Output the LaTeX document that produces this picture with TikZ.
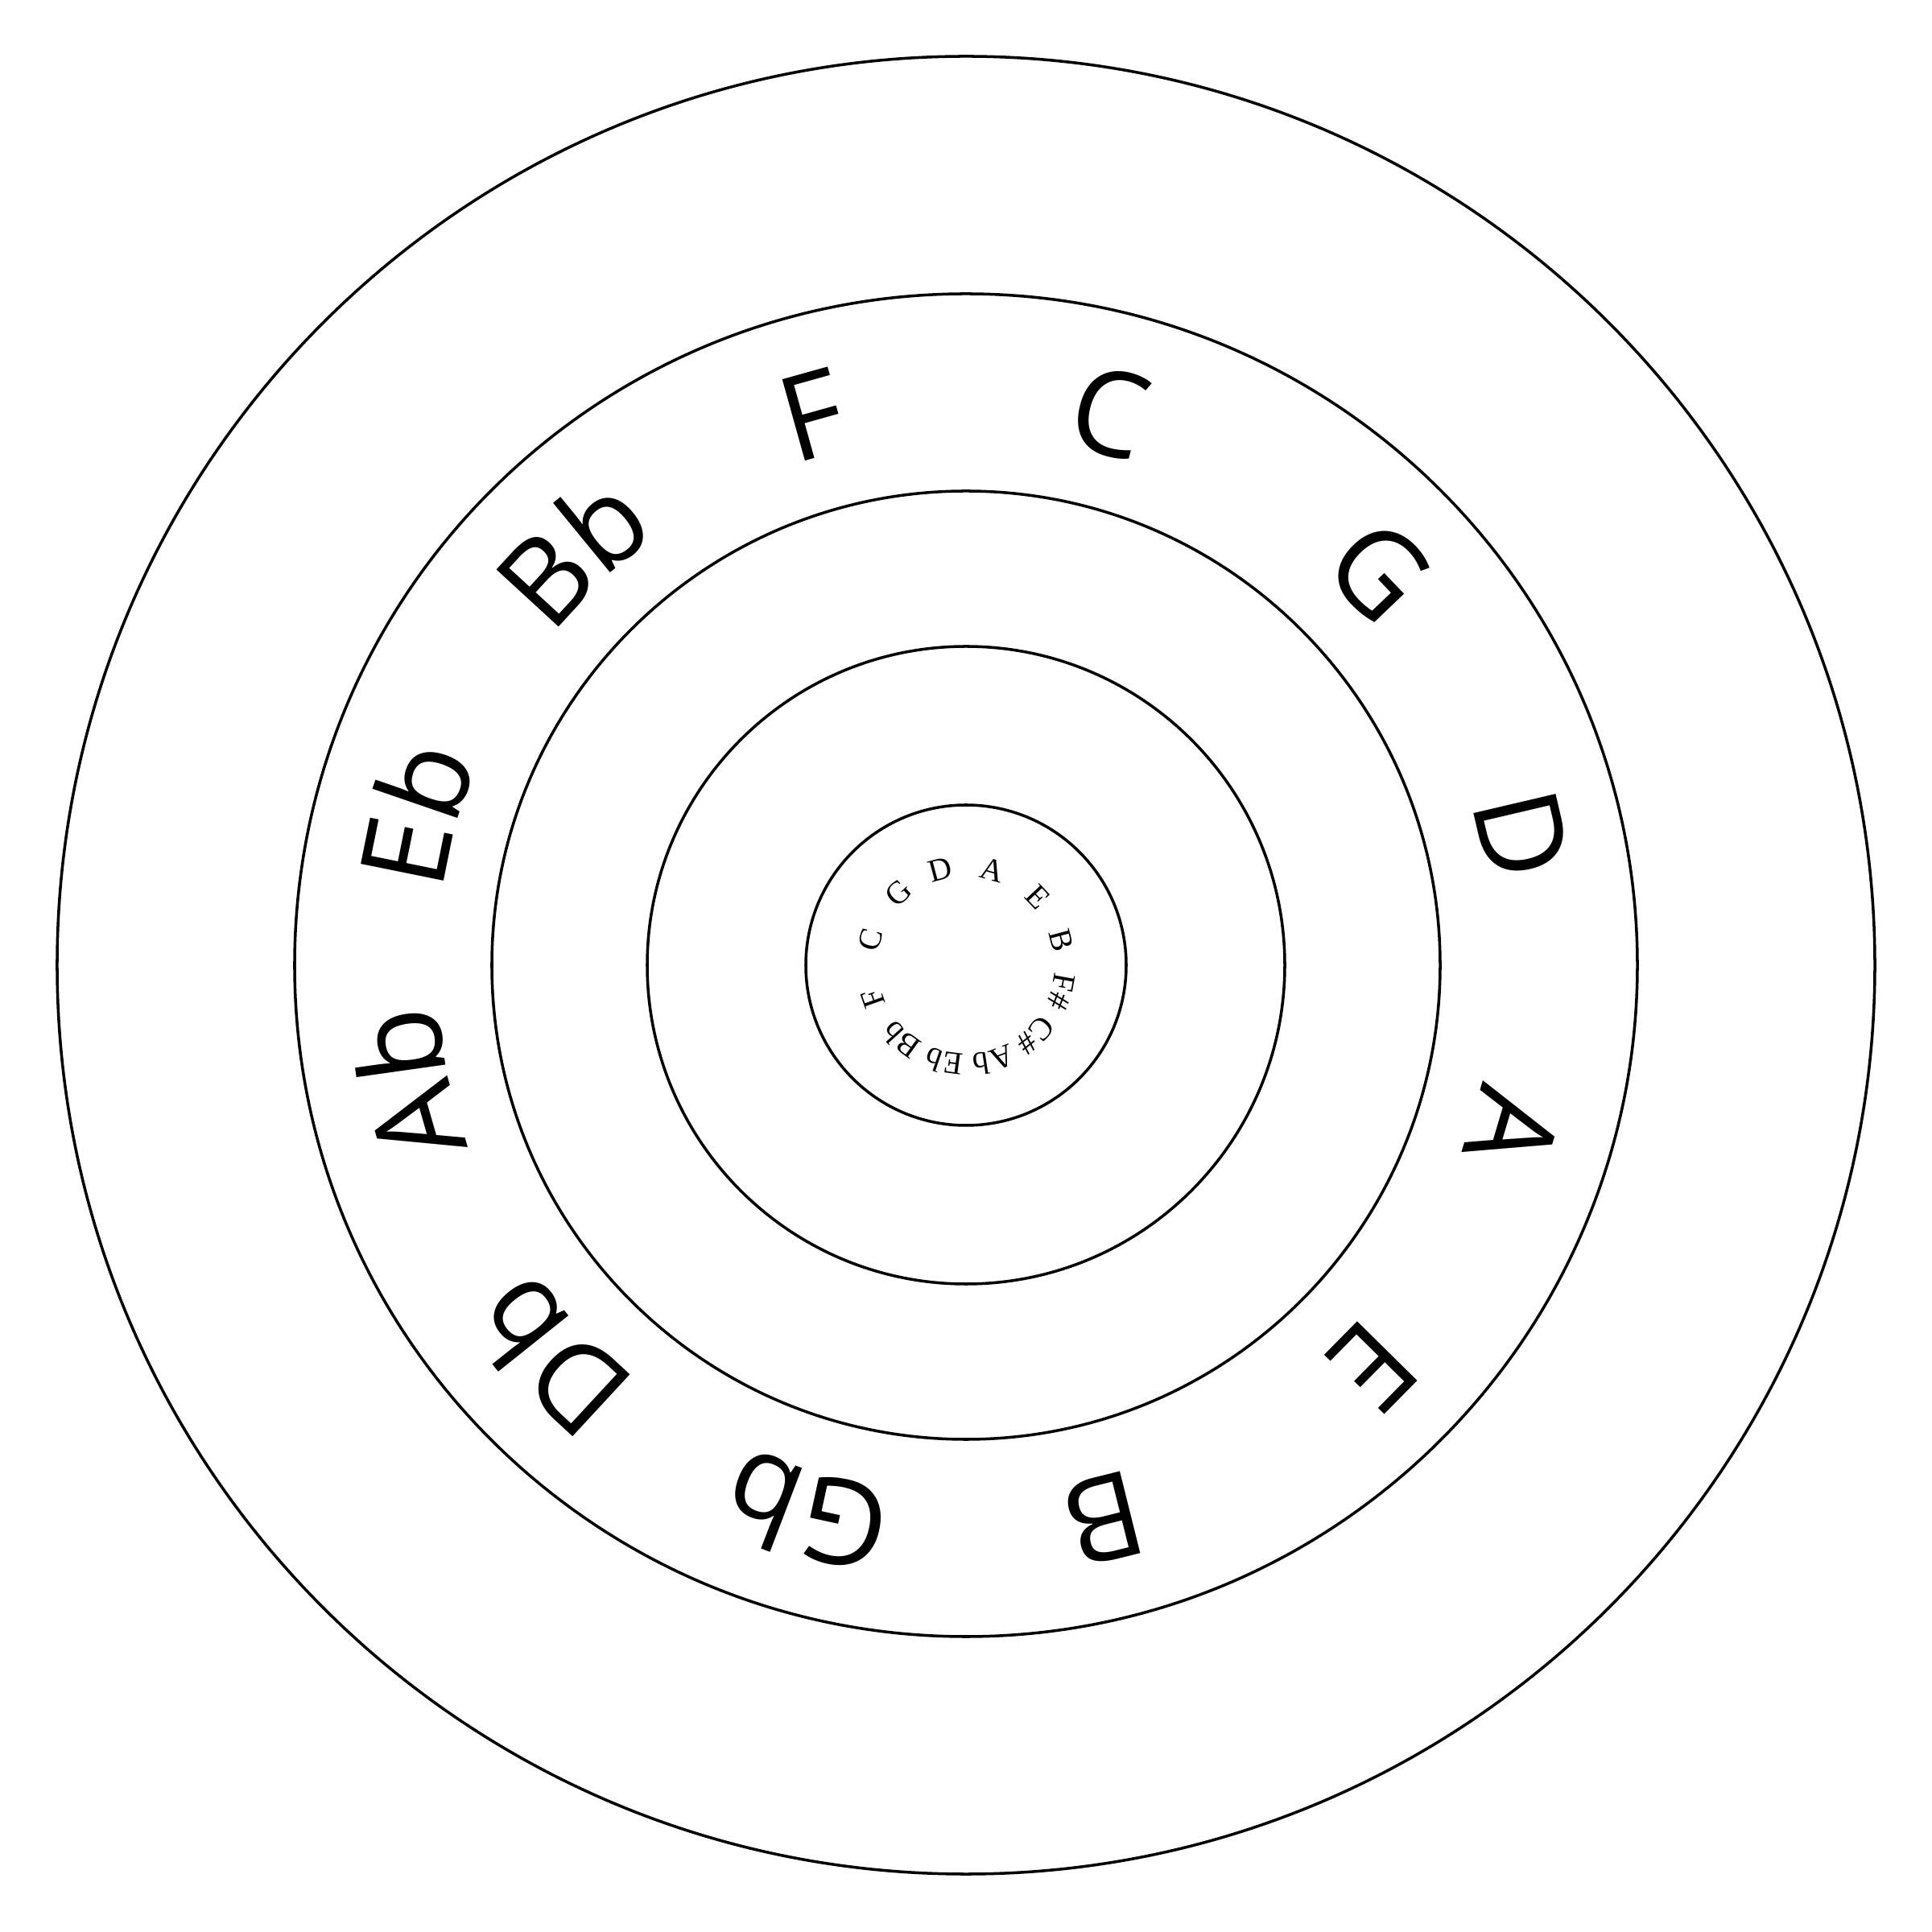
\documentclass[tikz,border=0pt]{standalone}
\usepackage{fontspec}
\newfontfamily\notefont{Open Sans}
\newfontfamily\smallfont{Liberation Serif}
\usetikzlibrary{decorations.text}
\tikzset{
  ring/.style={draw=black, line width=1pt},
  bigtext/.style={decorate, decoration={text along path, text align=center,
      text={|\notefont\fontsize{41.8pt}{50pt}\selectfont|#1}}},
  smalltext/.style={decorate, decoration={text along path, text align=center,
      text={|\smallfont\fontsize{11.3pt}{14pt}\selectfont|#1}}}
}
\newcommand\bignote[2]{\path[bigtext={#2}] ({#1+20}:6.57) arc[start angle={#1+20}, end angle={#1-20}, radius=6.57];}
\newcommand\smallnote[2]{\path[smalltext={#2}] ({#1+40}:1.10) arc[start angle={#1+40}, end angle={#1-40}, radius=1.10];}
\begin{document}
\begin{tikzpicture}
\useasboundingbox[fill=white] (-12,-12.01) rectangle (12,11.99);
\coordinate (O) at (0,0);
\draw[ring] (O) circle[radius=11.29];
\draw[ring] (O) circle[radius=8.34];
\draw[ring] (O) circle[radius=5.89];
\draw[ring] (O) circle[radius=3.96];
\draw[ring] (O) circle[radius=1.99];
% outer ring of key names
\bignote{105.6}{F}
\bignote{75.4}{C}
\bignote{43.7}{G}
\bignote{13.2}{D}
\bignote{-16.6}{A}
\bignote{-44.6}{E}
\bignote{-76}{B}
\bignote{-106.2}{Gb}
\bignote{-136.7}{Db}
\bignote{-167.9}{Ab}
\bignote{164.6}{Eb}
\bignote{133.5}{Bb}
% inner small ring
\smallnote{199.5}{F}
\smallnote{165}{C}
\smallnote{133}{G}
\smallnote{105}{D}
\smallnote{74.3}{A}
\smallnote{43.3}{E}
\smallnote{14.8}{B}
\smallnote{-15.3}{F{\#}}
\smallnote{-45.2}{C{\#}}
\smallnote{-74}{Ab}
\smallnote{-102.6}{Eb}
\smallnote{-131}{Bb}
\end{tikzpicture}
\end{document}
